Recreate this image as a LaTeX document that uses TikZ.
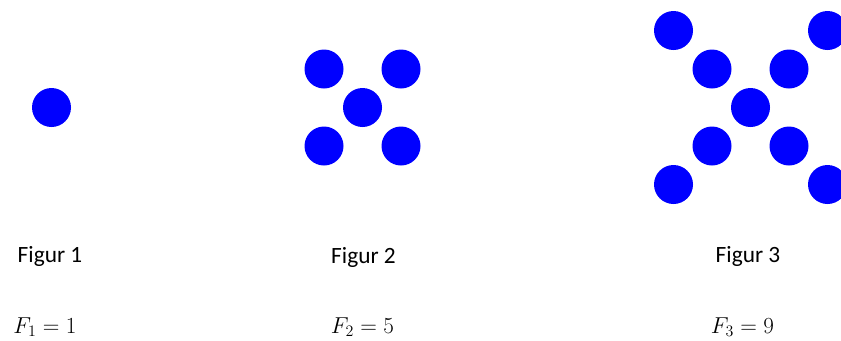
\documentclass[tikz,border=0pt]{standalone}
\usepackage{fontspec}
\usepackage{amsmath}
\newfontfamily\captionfont{Carlito}
\usetikzlibrary{positioning}

\begin{document}
\begin{tikzpicture}[
    x=0.75pt, y=-0.75pt,
    dot/.style={circle, fill=blue, inner sep=0pt, minimum size=29.25pt},
    caption/.style={font=\captionfont\fontsize{17.5}{20}\selectfont, inner sep=0pt, anchor=base},
    formula/.style={font=\fontsize{18}{21}\selectfont, inner sep=0pt, anchor=base}
]
\useasboundingbox (0,0) rectangle (841,340);

% Figur 1
\node[dot] (f1c) at (51.5,107.5) {};

% Figur 2
\node[dot] (f2c) at (362.5,107.5) {};
\foreach \dx/\dy [count=\i] in {-1/-1, 1/-1, -1/1, 1/1}
  \node[dot] (f2\i) at (362.5+38.5*\dx, 107.5+38.5*\dy) {};

% Figur 3
\node[dot] (f3c) at (750.5,107.5) {};
\foreach \dx/\dy [count=\i] in {-1/-1, 1/-1, -1/1, 1/1}
{
  \node[dot] (f3in\i) at (750.5+38.5*\dx, 107.5+38.5*\dy) {};
  \node[dot] (f3out\i) at (750.5+77*\dx, 107.5+77*\dy) {};
}

% Beschriftung
\node[caption] (cap1) at (50,262) {Figur 1};
\node[caption] (cap2) at (363.5,263) {Figur 2};
\node[caption] (cap3) at (748,262) {Figur 3};

% Formeln
\node[formula] (eq1) at (45,333.5) {$F_1 = 1$};
\node[formula] (eq2) at (362.5,333.5) {$F_2 = 5$};
\node[formula] (eq3) at (742.5,333.5) {$F_3 = 9$};

\end{tikzpicture}
\end{document}
